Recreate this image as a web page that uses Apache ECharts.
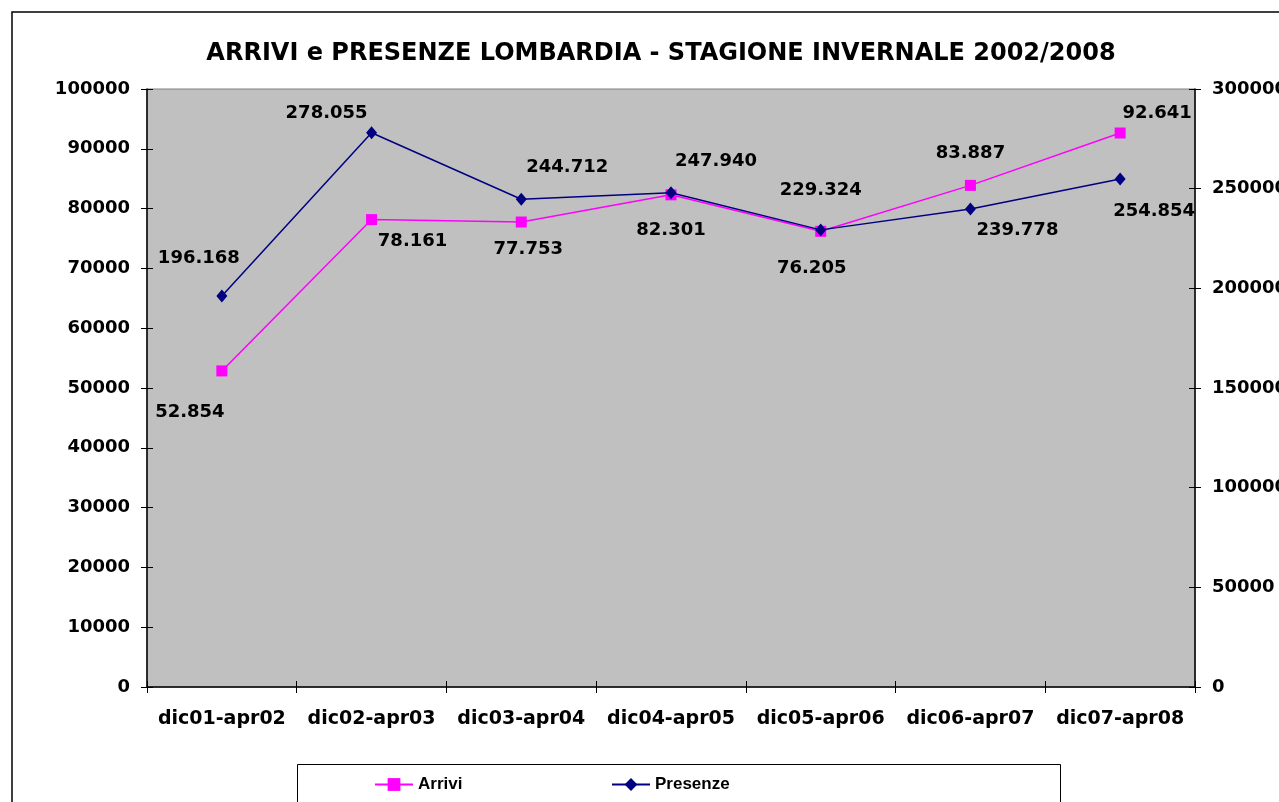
<!DOCTYPE html>
<html><head><meta charset="utf-8">
<script src="https://cdn.jsdelivr.net/npm/echarts@6/dist/echarts.min.js"></script>
<style>html,body{margin:0;padding:0;background:#fff}#c{width:1279px;height:802px}</style>
</head><body><div id="c"></div>
<script>
var categories = ['dic01-apr02','dic02-apr03','dic03-apr04','dic04-apr05','dic05-apr06','dic06-apr07','dic07-apr08'];
var arrivi = [52854, 78161, 77753, 82301, 76205, 83887, 92641];
var presenze = [196168, 278055, 244712, 247940, 229324, 239778, 254854];
var leftTicks = [0, 100000, 10000];
var rightTicks = [0, 300000, 50000];
var arriviLabelOffsets = [[-32,41],[41,22],[7,27],[0,35],[-9,37],[0,-32],[37,-20]];
var presenzeLabelOffsets = [[-23,-38],[-45,-19],[46,-32],[45,-31],[0,-40],[47,21],[34,32]];

function fmt(v){ return String(v).replace(/\B(?=(\d{3})+(?!\d))/g, '.'); }
var FONT = '"DejaVu Sans", "Liberation Sans", Arial, sans-serif';
var labelStyle = {show:true, position:'inside', color:'#000', fontFamily:FONT, fontWeight:'bold', fontSize:18, align:'center', verticalAlign:'middle'};

function mkData(vals, offs){
  return vals.map(function(v,i){
    return {value:v, label:Object.assign({}, labelStyle, {offset:offs[i], formatter:function(p){return fmt(p.value);}})};
  });
}

var chart = echarts.init(document.getElementById('c'), null, {renderer:'canvas'});
var axisLab = {fontFamily:FONT, fontWeight:'bold', fontSize:18, color:'#000'};
var legendText = {fontFamily:'"Liberation Sans", Arial, sans-serif', fontWeight:'bold', fontSize:17, color:'#000'};
chart.setOption({
  animation:false,
  title:{text:'ARRIVI e PRESENZE LOMBARDIA - STAGIONE INVERNALE 2002/2008', left:656, textAlign:'center', top:37,
    textStyle:{fontFamily:FONT, fontWeight:'bold', fontSize:24, color:'#000'}},
  grid:{left:147, right:84, top:89, bottom:115, outerBoundsMode:'none', containLabel:false, show:true, backgroundColor:'#C0C0C0', borderColor:'#808080', borderWidth:1},
  legend:[
    {data:['Arrivi'], left:374, top:776, padding:0, itemGap:0, itemWidth:38, itemHeight:16, textStyle:legendText},
    {data:['Presenze'], left:611, top:776, padding:0, itemGap:0, itemWidth:38, itemHeight:16, textStyle:legendText}
  ],
  graphic:[
    {type:'rect', shape:{x:12, y:12, width:1300, height:850}, style:{fill:null, stroke:'#000', lineWidth:1.5}, silent:true, z:-1},
    {type:'rect', shape:{x:297.5, y:764.5, width:763, height:60}, style:{fill:'#fff', stroke:'#000', lineWidth:1}, silent:true, z:-1}
  ],
  xAxis:[
    {type:'category', data:categories, boundaryGap:true,
      axisLine:{lineStyle:{color:'#000', width:1.5}},
      axisTick:{show:true, inside:false, length:6, lineStyle:{color:'#000'}},
      axisLabel:Object.assign({margin:23, interval:0}, axisLab, {fontSize:19}), splitLine:{show:false}},
    {type:'category', data:categories, boundaryGap:true, position:'bottom',
      axisLine:{show:false}, axisTick:{show:true, inside:true, length:6, lineStyle:{color:'#000'}},
      axisLabel:{show:false}, splitLine:{show:false}}
  ],
  yAxis:[
    {type:'value', min:leftTicks[0], max:leftTicks[1], interval:leftTicks[2], position:'left',
      axisLine:{show:true, lineStyle:{color:'#000', width:1.5}},
      axisTick:{show:true, length:6, lineStyle:{color:'#000'}},
      axisLabel:Object.assign({margin:17, formatter:function(v){return String(v);}}, axisLab), splitLine:{show:false}},
    {type:'value', min:rightTicks[0], max:rightTicks[1], interval:rightTicks[2], position:'right',
      axisLine:{show:true, lineStyle:{color:'#000', width:1.5}},
      axisTick:{show:true, length:6, lineStyle:{color:'#000'}},
      axisLabel:Object.assign({margin:17, formatter:function(v){return String(v);}}, axisLab), splitLine:{show:false}},
    {type:'value', min:leftTicks[0], max:leftTicks[1], interval:leftTicks[2], position:'left',
      axisLine:{show:false}, axisTick:{show:true, inside:true, length:6, lineStyle:{color:'#000'}},
      axisLabel:{show:false}, splitLine:{show:false}},
    {type:'value', min:rightTicks[0], max:rightTicks[1], interval:rightTicks[2], position:'right',
      axisLine:{show:false}, axisTick:{show:true, inside:true, length:6, lineStyle:{color:'#000'}},
      axisLabel:{show:false}, splitLine:{show:false}}
  ],
  series:[
    {name:'Arrivi', type:'line', yAxisIndex:0, data:mkData(arrivi, arriviLabelOffsets),
      symbol:'rect', symbolSize:11, color:'#FF00FF', lineStyle:{color:'#FF00FF', width:1.5},
      itemStyle:{color:'#FF00FF'}, z:3},
    {name:'Presenze', type:'line', yAxisIndex:1, data:mkData(presenze, presenzeLabelOffsets),
      symbol:'diamond', symbolSize:[11,13], color:'#000080', lineStyle:{color:'#000080', width:1.5},
      itemStyle:{color:'#000080'}, z:4}
  ]
});
</script></body></html>
